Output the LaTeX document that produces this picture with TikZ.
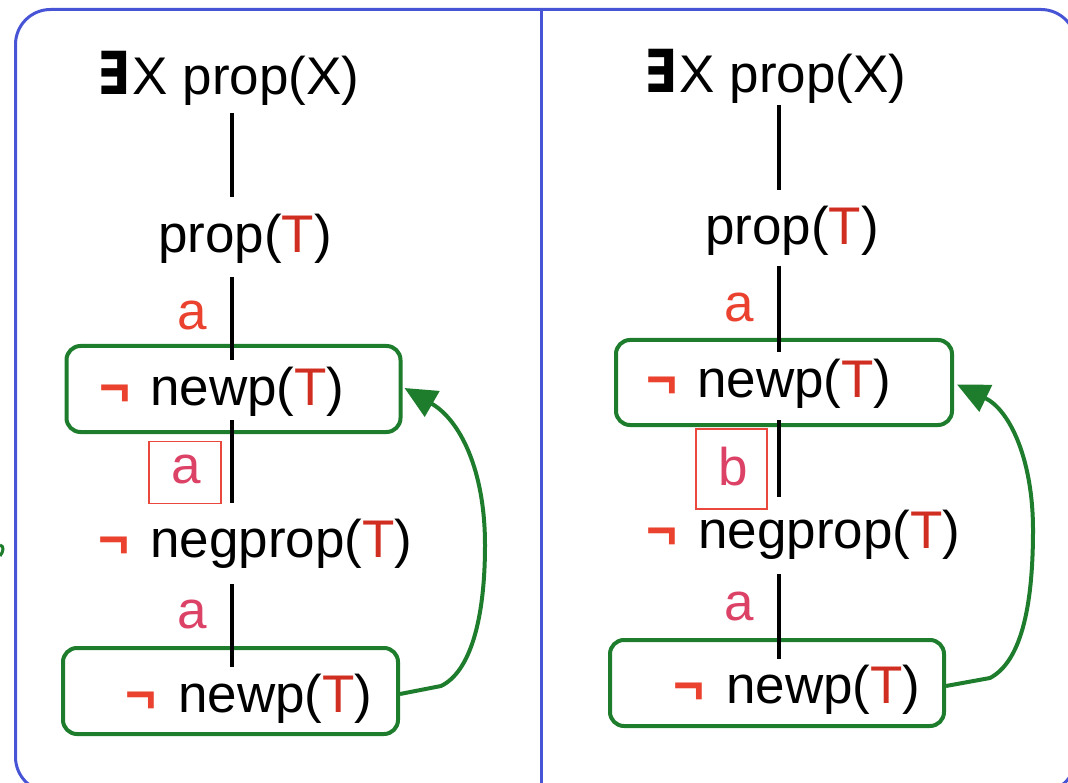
\documentclass[tikz,border=0pt]{standalone}
\usepackage{fontspec}
\setmainfont{Liberation Sans}
\newfontfamily\exfont{DejaVu Sans}
\usetikzlibrary{arrows.meta}
\definecolor{tred}{RGB}{208,46,32}
\definecolor{nred}{RGB}{234,66,46}
\definecolor{apink}{RGB}{220,66,102}
\definecolor{boxred}{RGB}{234,72,60}
\definecolor{gr}{RGB}{30,125,45}
\definecolor{frameblue}{RGB}{72,84,214}
\newcommand{\tT}{\textcolor{tred}{T}}
\newcommand{\exsym}{{\exfont\bfseries\scalebox{0.9}[1.12]{∃}}\hspace{3pt}}
\begin{document}
\begin{tikzpicture}[x=1pt,y=-1pt,
  txt/.style={inner sep=0pt,anchor=base west,font=\fontsize{53}{60}\selectfont},
  negs/.style={txt,text=nred,font=\fontsize{53}{60}\selectfont\bfseries},
  lbl/.style={txt,text=apink},
  lblred/.style={txt,text=nred},
  gbox/.style={draw=gr,line width=4pt,rounded corners=14pt,inner sep=0pt},
  rbox/.style={draw=boxred,line width=1.4pt,inner sep=0pt},
  tline/.style={line width=3.3pt,black},
  garrow/.style={draw=gr,line width=4pt,-{Triangle[length=32pt,width=29pt]}}]
\useasboundingbox (0,0) rectangle (1068,783);
\begin{scope}
\clip (0,0) rectangle (1068,783);
% frame
\draw[frameblue,line width=3pt,rounded corners=35pt] (15.5,9.5) rectangle (1076,792);
\draw[frameblue,line width=3pt] (541,9.5) -- (541,792);
% small green mark at left edge
\draw[gr,line width=3pt] (0,545) .. controls (4,546) and (4,551) .. (0,556);

% ---------------- left panel ----------------
\node[gbox,minimum width=334pt,minimum height=86pt] (LB1) at (233.5,389) {};
\node[gbox,minimum width=335pt,minimum height=86pt] (LB2) at (230.5,691) {};
\node[txt] (L0) at (97,95) {\exsym X prop(X)};
\node[txt] (L1) at (158,253) {prop(\tT)};
\node[negs] (L2n) at (99,405) {¬};
\node[txt] (L2) at (150,405) {newp(\tT)};
\node[negs] (L3n) at (98,557) {¬};
\node[txt] (L3) at (150,557) {negprop(\tT)};
\node[negs] (L4n) at (125,712) {¬};
\node[txt] (L4) at (178,712) {newp(\tT)};
\node[lblred] (La1) at (177,330) {a};
\node[rbox,minimum width=72pt,minimum height=62pt] (LaBox) at (185,472.5) {};
\node[lbl] (La2) at (171,483) {a};
\node[lbl] (La3) at (177,628) {a};
\coordinate (l1a) at (232,113); \coordinate (l1b) at (232,197);
\coordinate (l2a) at (232,277); \coordinate (l2b) at (232,360);
\coordinate (l3a) at (232,420); \coordinate (l3b) at (232,503);
\coordinate (l4a) at (232,584); \coordinate (l4b) at (232,667);
\draw[tline] (l1a) -- (l1b);
\draw[tline] (l2a) -- (l2b);
\draw[tline] (l3a) -- (l3b);
\draw[tline] (l4a) -- (l4b);
\coordinate (lk) at (441,686);
\coordinate (lm) at (485,545);
\draw[garrow] ([yshift=-3pt]LB2.east) -- (lk) .. controls (470,672) and (485,620) .. (lm)
   .. controls (485,470) and (460,420) .. ([yshift=1pt,xshift=2pt]LB1.east);

% ---------------- right panel ----------------
\node[gbox,minimum width=336pt,minimum height=85pt] (RB1) at (784,382.5) {};
\node[gbox,minimum width=334pt,minimum height=86pt] (RB2) at (777,683) {};
\node[txt] (R0) at (644,93) {\exsym X prop(X)};
\node[txt] (R1) at (705,245) {prop(\tT)};
\node[negs] (R2n) at (646,398) {¬};
\node[txt] (R2) at (697,398) {newp(\tT)};
\node[negs] (R3n) at (646,548) {¬};
\node[txt] (R3) at (698,548) {negprop(\tT)};
\node[negs] (R4n) at (673,703) {¬};
\node[txt] (R4) at (726,703) {newp(\tT)};
\node[lblred] (Ra1) at (724,322) {a};
\node[rbox,minimum width=71pt,minimum height=80pt] (RbBox) at (731.5,469) {};
\node[lbl] (Rb) at (718,485) {b};
\node[lbl] (Ra3) at (724,620) {a};
\coordinate (r1a) at (779,105); \coordinate (r1b) at (779,190);
\coordinate (r2a) at (779,266); \coordinate (r2b) at (779,352);
\coordinate (r3a) at (779,420); \coordinate (r3b) at (779,497);
\coordinate (r4a) at (779,574); \coordinate (r4b) at (779,659);
\draw[tline] (r1a) -- (r1b);
\draw[tline] (r2a) -- (r2b);
\draw[tline] (r3a) -- (r3b);
\draw[tline] (r4a) -- (r4b);
\coordinate (rk) at (990,678);
\coordinate (rm) at (1033,530);
\draw[garrow] ([yshift=-3pt]RB2.east) -- (rk) .. controls (1020,662) and (1033,610) .. (rm)
   .. controls (1033,460) and (1010,410) .. ([yshift=-2pt,xshift=3pt]RB1.east);
\end{scope}
\end{tikzpicture}
\end{document}
